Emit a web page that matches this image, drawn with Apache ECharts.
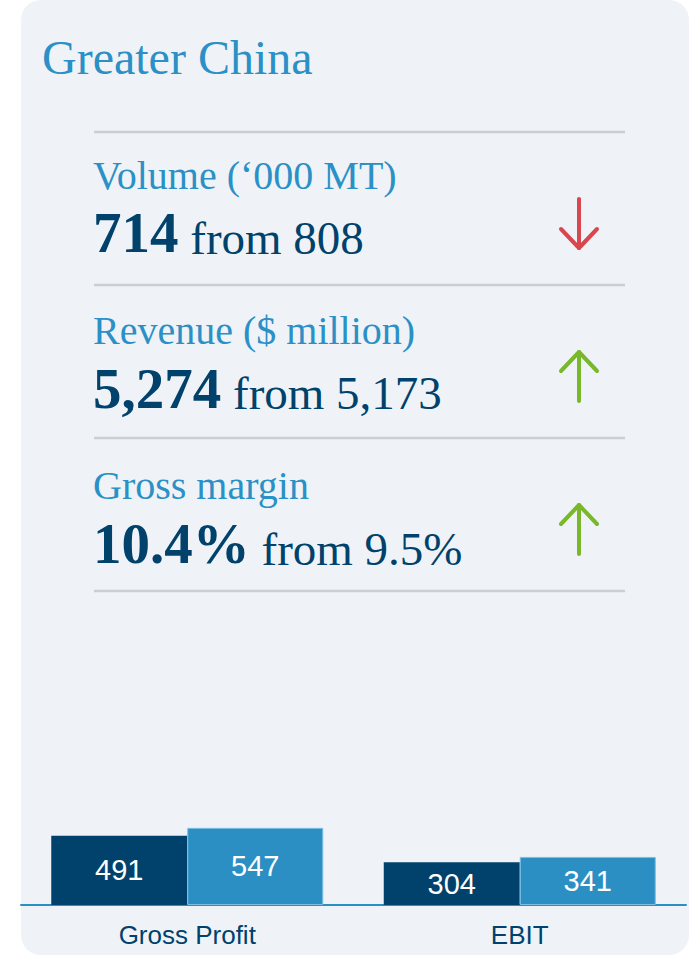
<!DOCTYPE html>
<html>
<head>
<meta charset="utf-8">
<title>Greater China</title>
<script src="https://cdn.jsdelivr.net/npm/echarts@6/dist/echarts.min.js"></script>
<style>
  html, body { margin: 0; padding: 0; background: #ffffff; }
  #chart { width: 693px; height: 958px; }
</style>
</head>
<body>
<div id="chart"></div>
<script>
// key figures
const metricLabels = ['Volume (‘000 MT)', 'Revenue ($ million)', 'Gross margin'];
const metricNow = ['714', '5,274', '10.4%'];
const metricPrev = ['808', '5,173', '9.5%'];
const metricTrend = ['down', 'up', 'up'];

// bars at the bottom
const barCategories = ['Gross Profit', 'EBIT'];
const priorYear = [491, 304];
const currentYear = [547, 341];

const NAVY = '#00426b';
const BLUE = '#2b8fc4';
const TEAL_TEXT = '#2b90c6';
const RED = '#d8464f';
const GREEN = '#79b82a';
const RULE = '#c9d0d5';
const SERIF = '"Liberation Serif", "DejaVu Serif", serif';
const SANS = '"Liberation Sans", Arial, sans-serif';

const chart = echarts.init(document.getElementById('chart'), null, { renderer: 'svg' });

function arrow(x, top, bottom, dir, color) {
  // shaft + head, head at the top for "up"
  const tip = dir === 'up' ? top : bottom;
  const back = dir === 'up' ? tip + 19 : tip - 19;
  const line = { stroke: color, lineWidth: 4, lineCap: 'round', lineJoin: 'round', fill: null };
  return {
    type: 'group',
    z: 5,
    children: [
      { type: 'line', shape: { x1: x, y1: top, x2: x, y2: bottom }, style: line },
      { type: 'polyline', shape: { points: [[x - 18, back], [x, tip], [x + 18, back]] }, style: line }
    ]
  };
}

const graphics = [
  {
    type: 'rect', z: -10,
    shape: { x: 21, y: 0, width: 668, height: 955, r: 20 },
    style: { fill: '#eff3f7' }
  },
  {
    type: 'text', z: 5,
    style: {
      text: 'Greater China', x: 42, y: 57,
      font: '48px ' + SERIF, fill: TEAL_TEXT, verticalAlign: 'middle'
    }
  }
];

// horizontal rules
for (let i = 0; i < 4; i++) {
  const y = 132 + i * 153;
  graphics.push({
    type: 'line', z: 5,
    shape: { x1: 94, y1: y, x2: 625, y2: y },
    style: { stroke: RULE, lineWidth: 2.5 }
  });
}

metricLabels.forEach((label, i) => {
  graphics.push({
    type: 'text', z: 5,
    style: {
      text: label, x: 93, y: 189 + i * 155 - 13.6,
      font: '40px ' + SERIF, fill: TEAL_TEXT, verticalAlign: 'middle'
    }
  });
  graphics.push({
    type: 'text', z: 5,
    style: {
      text: '{b|' + metricNow[i] + '}{r| from ' + metricPrev[i] + '}',
      x: 93, y: 252 + i * 155.5 - 19,
      verticalAlign: 'middle',
      rich: {
        b: { font: 'bold 57px ' + SERIF, fill: NAVY, lineHeight: 56, verticalAlign: 'bottom' },
        r: { font: '47px ' + SERIF, fill: NAVY, lineHeight: 49, verticalAlign: 'bottom' }
      }
    }
  });
  const top = 132 + i * 153 + 67;
  graphics.push(arrow(579, top, top + 49, metricTrend[i], metricTrend[i] === 'up' ? GREEN : RED));
});

const option = {
  animation: false,
  backgroundColor: '#ffffff',
  grid: { left: 21, right: 7, top: 764, bottom: 53 },
  xAxis: {
    type: 'category',
    data: barCategories,
    axisLine: { lineStyle: { color: BLUE, width: 2 } },
    axisTick: { show: false },
    axisLabel: { color: NAVY, fontFamily: SANS, fontSize: 26, margin: 17 }
  },
  yAxis: {
    type: 'value', min: 0, max: 1000, show: false,
    splitLine: { show: false }
  },
  series: [
    {
      name: 'Prior year', type: 'bar', data: priorYear,
      barWidth: 136, barGap: '0%',
      itemStyle: { color: NAVY },
      label: { show: true, position: 'inside', color: '#ffffff', fontFamily: SANS, fontSize: 29 }
    },
    {
      name: 'Current year', type: 'bar', data: currentYear,
      barWidth: 136,
      itemStyle: { color: BLUE, borderColor: '#7dbde2', borderWidth: 1 },
      label: { show: true, position: 'inside', color: '#ffffff', fontFamily: SANS, fontSize: 29 }
    }
  ],
  graphic: graphics
};

chart.setOption(option);
</script>
</body>
</html>
